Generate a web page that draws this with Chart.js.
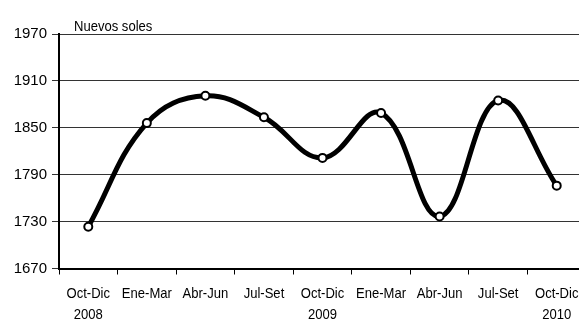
<!DOCTYPE html>
<html>
<head>
<meta charset="utf-8">
<script src="https://cdn.jsdelivr.net/npm/chart.js@4/dist/chart.umd.min.js"></script>
<style>
  html, body { margin: 0; padding: 0; background: #fff; overflow: hidden; }
  #wrap { width: 592px; height: 320px; }
</style>
</head>
<body>
<div id="wrap"><canvas id="Soles" width="592" height="320"></canvas></div>
<script>
// trimestres (etiqueta de dos lineas)
var trimestres = [
    ["Oct-Dic", "2008"], ["Ene-Mar", ""], ["Abr-Jun", ""], ["Jul-Set", ""],
    ["Oct-Dic", "2009"], ["Ene-Mar", ""], ["Abr-Jun", ""], ["Jul-Set", ""],
    ["Oct-Dic", "2010"]
];
var valores = [1723.5, 1856, 1891, 1863.5, 1811.5, 1869, 1736.5, 1885, 1776];
var ejeMin = 1670;
var ejeMax = 1970;
var ejePaso = 60;
var unidad = "Nuevos soles";

document.addEventListener('DOMContentLoaded', function () {
    var fuente = "'Liberation Sans', Arial, sans-serif";

    // texto angosto (como Arial Narrow) escalando en horizontal
    function textoAngosto(ctx, texto, x, y, alinear) {
        ctx.save();
        ctx.translate(x, y);
        ctx.scale(0.87, 1);
        ctx.textAlign = alinear;
        ctx.fillText(texto, 0, 0);
        ctx.restore();
    }

    var textosNarrow = {
        id: 'textosNarrow',
        afterDraw: function (chart) {
            var ctx = chart.ctx;
            var area = chart.chartArea;
            var ejeX = chart.scales.x;
            ctx.save();
            ctx.fillStyle = "#000";
            ctx.textBaseline = "middle";
            ctx.font = "15px " + fuente;
            trimestres.forEach(function (etiqueta, i) {
                var px = ejeX.getPixelForValue(i);
                textoAngosto(ctx, etiqueta[0], px, area.bottom + 25.5, "center");
                if (etiqueta[1]) {
                    textoAngosto(ctx, etiqueta[1], px, area.bottom + 46.5, "center");
                }
            });
            ctx.font = "15px " + fuente;
            ctx.textBaseline = "alphabetic";
            textoAngosto(ctx, unidad, area.left + 15, area.top - 3, "left");
            ctx.restore();
        }
    };

    var contexto = document.getElementById('Soles').getContext('2d');
    var grafico = new Chart(contexto, {
        type: 'line',
        data: {
            labels: trimestres,
            datasets: [{
                data: valores,
                borderColor: "#000",
                borderWidth: 5,
                tension: 0.4,
                fill: false,
                pointRadius: 4,
                pointBorderWidth: 2,
                pointBackgroundColor: "#fff",
                pointBorderColor: "#000"
            }]
        },
        options: {
            responsive: false,
            animation: false,
            layout: { padding: { top: 34, right: 0, left: 0, bottom: 0 } },
            plugins: {
                legend: { display: false },
                tooltip: { enabled: false }
            },
            scales: {
                x: {
                    offset: true,
                    grid: {
                        offset: true,
                        drawOnChartArea: false,
                        drawTicks: true,
                        tickLength: 6,
                        color: "#000",
                        lineWidth: 1
                    },
                    border: { display: true, color: "#000", width: 2 },
                    ticks: { display: false, autoSkip: false },
                    afterFit: function (escala) { escala.height = 51.5; }
                },
                y: {
                    min: ejeMin,
                    max: ejeMax,
                    grid: {
                        color: "#333",
                        lineWidth: 1,
                        tickLength: 7
                    },
                    border: { display: true, color: "#000", width: 2 },
                    ticks: {
                        stepSize: ejePaso,
                        color: "#000",
                        padding: 5,
                        font: { family: fuente, size: 15 },
                        callback: function (valor) { return String(valor); }
                    },
                    afterFit: function (escala) { escala.width = 59; }
                }
            }
        },
        plugins: [textosNarrow]
    });
});
</script>
</body>
</html>
